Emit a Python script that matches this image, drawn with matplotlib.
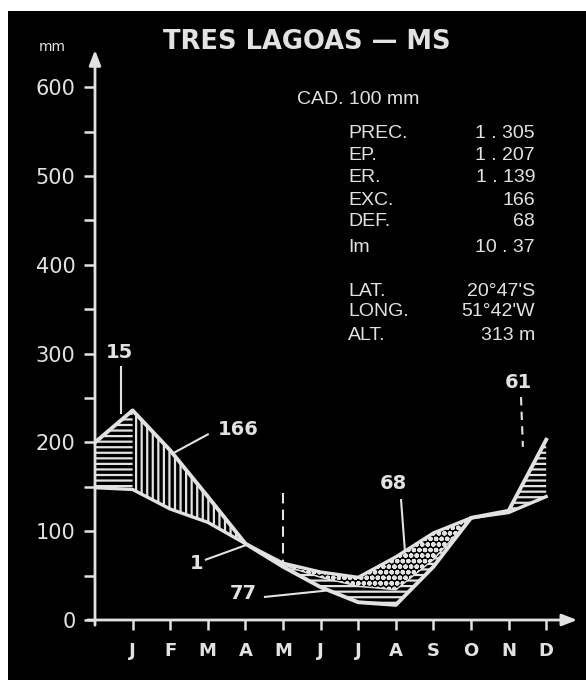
import matplotlib.pyplot as plt
from matplotlib.patches import Rectangle

# monthly values (mm), position 0 = previous December
months = ['J', 'F', 'M', 'A', 'M', 'J', 'J', 'A', 'S', 'O', 'N', 'D']
prec = [200, 236, 191, 139, 86, 60, 37, 20, 17, 60, 115, 123, 203]
ep = [149, 147, 125, 110, 86, 64, 54, 48, 71, 98, 115, 121, 139]
er = [149, 147, 125, 110, 86, 62, 48, 38, 34, 68, 115, 121, 139]

table_labels = ['PREC.', 'EP.', 'ER.', 'EXC.', 'DEF.', 'Im']
table_values = ['1 . 305', '1 . 207', '1 . 139', '166', '68', '10 . 37']
site_labels = ['LAT.', 'LONG.', 'ALT.']
site_values = ["20°47'S", "51°42'W", '313 m']

fg = '#e2e2e2'
W, H = 586, 680
x = list(range(len(prec)))

fig = plt.figure(figsize=(W / 100, H / 100), dpi=100, facecolor='white')
fig.add_artist(Rectangle((8 / W, 0), 1, 1 - 11 / H, transform=fig.transFigure,
                         facecolor='black', edgecolor='none', zorder=0))

ax = fig.add_axes([95 / W, 60 / H, 485 / W, 575 / H])
ax.set_facecolor('none')
ax.set_xlim(0, 485 / 37.6)
ax.set_ylim(0, 575 / 0.888)
for s in ax.spines.values():
    s.set_visible(False)

plt.rcParams['hatch.linewidth'] = 1.6

# hatched areas
ax.fill_between(x[0:2], ep[0:2], prec[0:2], facecolor='none', edgecolor=fg, hatch='---', lw=0)
ax.fill_between(x[1:5], ep[1:5], prec[1:5], facecolor='none', edgecolor=fg, hatch='|||', lw=0)
ax.fill_between(x[4:11], prec[4:11], er[4:11], facecolor='none', edgecolor=fg, hatch='---', lw=0)
ax.fill_between(x[4:11], er[4:11], ep[4:11], facecolor='none', edgecolor=fg, hatch='ooo', lw=0)
ax.fill_between(x[11:13], ep[11:13], prec[11:13], facecolor='none', edgecolor=fg, hatch='---', lw=0)

ax.plot(x, prec, color=fg, lw=2.8, solid_joinstyle='round')
ax.plot(x, ep, color=fg, lw=2.4, solid_joinstyle='round')
ax.plot(x[4:11], er[4:11], color=fg, lw=1.0)

# axes with arrows
ax.annotate('', xy=(485 / 37.6, 0), xytext=(-0.27, 0), annotation_clip=False,
            arrowprops=dict(arrowstyle='-|>,head_length=0.9,head_width=0.35', color=fg, lw=2))
ax.annotate('', xy=(0, 645), xytext=(0, -9), annotation_clip=False,
            arrowprops=dict(arrowstyle='-|>,head_length=0.9,head_width=0.35', color=fg, lw=2))

ax.set_yticks(range(0, 601, 100))
ax.set_yticks(range(50, 600, 100), minor=True)
ax.set_xticks(range(1, 13))
ax.set_xticklabels(months, fontweight='bold')
ax.tick_params(axis='y', which='both', direction='out', length=8, width=1.8, color=fg,
               labelcolor=fg, labelsize=15, pad=6)
ax.tick_params(axis='x', direction='out', length=7, width=1.8, color=fg,
               labelcolor=fg, labelsize=13, pad=9)

# annotations
ann = dict(color=fg, fontsize=14, fontweight='bold', ha='center', va='center')
ax.text(0.66, 301, '15', **ann)
ax.plot([0.69, 0.69], [285, 233], color=fg, lw=1.5)
ax.text(3.8, 214, '166', **ann)
ax.plot([3.0, 2.13], [209, 189], color=fg, lw=1.5)
ax.text(2.71, 64, '1', **ann)
ax.plot([2.95, 3.99], [68, 84], color=fg, lw=1.5)
ax.text(3.94, 30, '77', **ann)
ax.plot([4.52, 6.12], [26, 33], color=fg, lw=1.5)
ax.plot([5.0, 5.0], [143, 64], color=fg, lw=1.5, ls=(0, (5, 3)))
ax.text(7.93, 154, '68', **ann)
ax.plot([8.14, 8.24], [135, 79], color=fg, lw=1.5)
ax.text(11.25, 267, '61', **ann)
ax.plot([11.33, 11.38], [251, 195], color=fg, lw=1.5, ls=(0, (4, 3)))

# titles and table
fig.text(307 / W, 1 - 42 / H, 'TRES LAGOAS — MS', color=fg, fontsize=18.5,
         fontweight='bold', ha='center', va='center')
fig.text(52 / W, 1 - 47 / H, 'mm', color=fg, fontsize=10, ha='center', va='center')
tf = dict(color=fg, fontsize=14, family='Liberation Sans', va='center')
fig.text(297 / W, 1 - 100 / H, 'CAD. 100 mm', ha='left', **tf)
rows = [133, 155, 178, 200, 222, 248]
for lab, val, yy in zip(table_labels, table_values, rows):
    fig.text(348 / W, 1 - yy / H, lab, ha='left', **tf)
    fig.text(535 / W, 1 - yy / H, val, ha='right', **tf)
for lab, val, yy in zip(site_labels, site_values, [292, 312, 335]):
    fig.text(348 / W, 1 - yy / H, lab, ha='left', **tf)
    fig.text(535 / W, 1 - yy / H, val, ha='right', **tf)

fig.savefig('out.png', dpi=100, facecolor='white')
